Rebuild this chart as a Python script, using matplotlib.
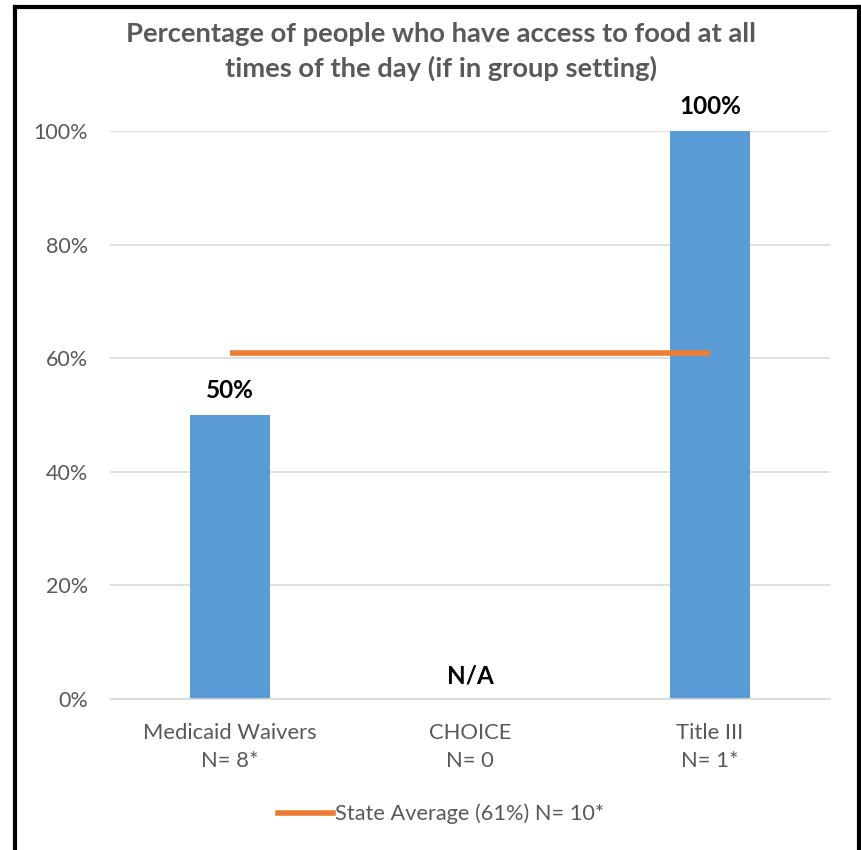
import matplotlib.pyplot as plt
from matplotlib.lines import Line2D

categories = ['Medicaid Waivers\nN= 8*', 'CHOICE\nN= 0', 'Title III\nN= 1*']
values = [0.50, None, 1.00]
bar_labels = ['50%', 'N/A', '100%']
state_avg = 0.61
legend_label = 'State Average (61%) N= 10*'
title = 'Percentage of people who have access to food at all\ntimes of the day (if in group setting)'
yticks = [0, 0.2, 0.4, 0.6, 0.8, 1.0]
ytick_labels = ['0%', '20%', '40%', '60%', '80%', '100%']

plt.rcParams['font.family'] = ['Lato', 'DejaVu Sans']
gray = '#595959'

W, H = 861, 850
fig = plt.figure(figsize=(W / 100, H / 100), dpi=100)
ax = fig.add_axes([110 / W, 1 - 699 / H, 720 / W, 568 / H])

x = list(range(len(categories)))
heights = [v if v is not None else 0 for v in values]
ax.bar(x, heights, width=0.333, color='#5B9BD5', zorder=2)

for xi, v, lab in zip(x, values, bar_labels):
    y = v if v is not None else 0
    ax.annotate(lab, (xi, y), xytext=(0, 9 if v is not None else 8),
                textcoords='offset points', ha='center', va='bottom',
                fontsize=17.5, fontweight='bold', color='black')

ax.plot([x[0], x[-1]], [state_avg, state_avg], color='#ED7D31', lw=4,
        solid_capstyle='butt', zorder=3)

ax.set_xlim(-0.5, 2.5)
ax.set_ylim(0, 1.0)
ax.set_yticks(yticks)
ax.set_yticklabels(ytick_labels)
ax.set_xticks(x)
ax.set_xticklabels(categories, linespacing=1.5)
ax.tick_params(axis='both', length=0, labelsize=15.8, labelcolor=gray)
ax.tick_params(axis='y', pad=16, labelsize=15.5)
ax.tick_params(axis='x', pad=17)
ax.grid(axis='y', color='#D9D9D9', lw=1.2, zorder=0)
for s in ['top', 'right', 'left']:
    ax.spines[s].set_visible(False)
ax.spines['bottom'].set_color('#D9D9D9')
ax.spines['bottom'].set_linewidth(1.2)

fig.text(441 / W, 1 - 51.5 / H, title, ha='center', va='center',
         fontsize=19.7, fontweight='bold', color=gray, linespacing=1.5)

handle = Line2D([], [], color='#ED7D31', lw=4)
fig.legend([handle], [legend_label], loc='center', bbox_to_anchor=(441 / W, 1 - 814 / H),
           frameon=False, fontsize=15.7, labelcolor=gray, handlelength=2.5,
           handletextpad=0.08)

# black frame (no bottom edge)
frame = dict(color='black', lw=3, transform=fig.transFigure)
fig.add_artist(Line2D([15 / W, 15 / W], [0, 1 - 7 / H], **frame))
fig.add_artist(Line2D([15 / W, 859 / W], [1 - 7 / H, 1 - 7 / H], **frame))
fig.add_artist(Line2D([859 / W, 859 / W], [0, 1 - 7 / H], **frame))

fig.savefig('out.png', dpi=100)
